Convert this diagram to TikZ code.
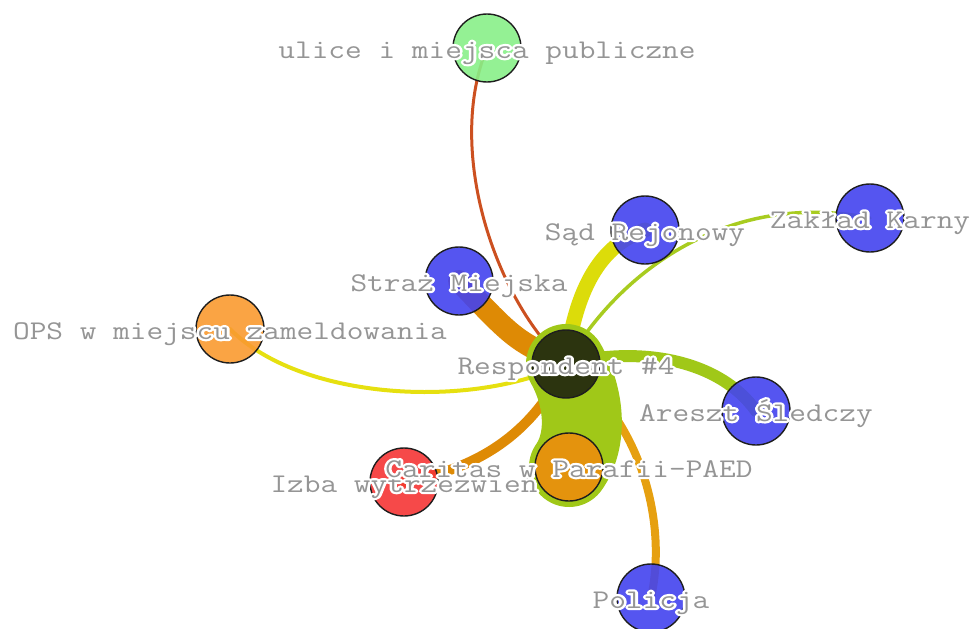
\documentclass[tikz,border=0pt]{standalone}

\definecolor{labelgray}{HTML}{959595}
\definecolor{rimcol}{HTML}{1E1E1E}
\definecolor{respfill}{HTML}{20250F}
\definecolor{bluefill}{HTML}{4343EE}
\definecolor{streetfill}{HTML}{88F088}
\definecolor{opsfill}{HTML}{F99A30}
\definecolor{caritasfill}{HTML}{EC8E0C}
\definecolor{izbafill}{HTML}{F53535}
\definecolor{rustline}{HTML}{CC5020}
\definecolor{amberband}{HTML}{DE8A05}
\definecolor{amberthin}{HTML}{E6A010}
\definecolor{yellowband}{HTML}{DCDC0A}
\definecolor{yellowthin}{HTML}{E6E010}
\definecolor{limethin}{HTML}{A8CC20}
\definecolor{limeband}{HTML}{A0C818}

% grey monospaced caption with a white halo (stroked copy underneath),
% stretched to a Courier-like width
\newcommand\halo[1]{\scalebox{1.2}[1]{%
  \rlap{\special{pdf:literal direct 1 Tr 4.4 w 1 j 1 1 1 RG}#1%
        \special{pdf:literal direct 0 Tr 1 w}}#1}}

\tikzset{
  vertex/.style={circle, draw=rimcol, line width=1.4pt, minimum size=68pt,
    inner sep=0pt, fill opacity=0.9},
  tie/.style={line cap=round},
  caption/.style={anchor=base, inner sep=0pt, text=labelgray,
    font=\fontsize{27}{27}\selectfont\ttfamily}
}

\begin{document}
\begin{tikzpicture}[x=1pt,y=-1pt]
\useasboundingbox (0,0) rectangle (975,629);

% vertex positions
\coordinate (R)   at (566,364);
\coordinate (UL)  at (487,48);
\coordinate (SM)  at (459,281);
\coordinate (SR)  at (645,230);
\coordinate (ZK)  at (870,218);
\coordinate (OPS) at (230,329);
\coordinate (AR)  at (756,411);
\coordinate (CA)  at (569,467);
\coordinate (IZ)  at (404,482);
\coordinate (PO)  at (651,598);

% ties
\draw[tie, rustline, line width=3pt]    (R) .. controls (495,300) and (445,150) .. (UL);
\draw[tie, amberband, line width=22pt]  (R) .. controls (515,340) .. (SM);
\draw[tie, yellowband, line width=15pt] (R) .. controls (575,290) and (600,245) .. (SR);
\draw[tie, limethin, line width=3.5pt]  (R) .. controls (620,270) and (730,190) .. (ZK);
\draw[tie, limeband, line width=12pt]   (R) .. controls (640,345) and (720,360) .. (AR);
\draw[tie, yellowthin, line width=4pt]  (OPS) .. controls (300,400) and (470,410) .. (R);
\draw[tie, amberband, line width=10pt]  (IZ) .. controls (470,470) and (530,440) .. (R);
\draw[tie, amberthin, line width=8pt]   (R) .. controls (640,420) and (668,520) .. (PO);
% broad tie between the respondent and Caritas
\draw[tie, limeband, line width=80pt]   (R) .. controls (585,398) and (588,440) .. (CA);

% vertices
\node[vertex, fill=streetfill]  (nUL)  at (UL)  {};
\node[vertex, fill=bluefill]    (nSM)  at (SM)  {};
\node[vertex, fill=bluefill]    (nSR)  at (SR)  {};
\node[vertex, fill=bluefill]    (nZK)  at (ZK)  {};
\node[vertex, fill=opsfill]     (nOPS) at (OPS) {};
\node[vertex, fill=bluefill]    (nAR)  at (AR)  {};
\node[vertex, fill=caritasfill] (nCA)  at (CA)  {};
\node[vertex, fill=izbafill]    (nIZ)  at (IZ)  {};
\node[vertex, fill=bluefill]    (nPO)  at (PO)  {};
\node[vertex, fill=respfill]    (nR)   at (R)   {};

% captions
\node[caption] (tUL)  at ([yshift=-10pt]UL)  {\halo{ulice i miejsca publiczne}};
\node[caption] (tSM)  at ([yshift=-10pt]SM)  {\halo{Straż Miejska}};
\node[caption] (tSR)  at ([yshift=-10pt]SR)  {\halo{Sąd Rejonowy}};
\node[caption] (tZK)  at ([yshift=-10pt]ZK)  {\halo{Zakład Karny}};
\node[caption] (tOPS) at ([yshift=-10pt]OPS) {\halo{OPS w miejscu zameldowania}};
\node[caption] (tR)   at ([yshift=-10pt]R)   {\halo{Respondent \#4}};
\node[caption] (tAR)  at ([yshift=-10pt]AR)  {\halo{Areszt Śledczy}};
\node[caption] (tIZ)  at ([yshift=-10pt]IZ)  {\halo{Izba wytrzeźwień}};
\node[caption] (tCA)  at ([yshift=-10pt]CA)  {\halo{Caritas w Parafii-PAED}};
\node[caption] (tPO)  at ([yshift=-10pt]PO)  {\halo{Policja}};
\end{tikzpicture}
\end{document}
